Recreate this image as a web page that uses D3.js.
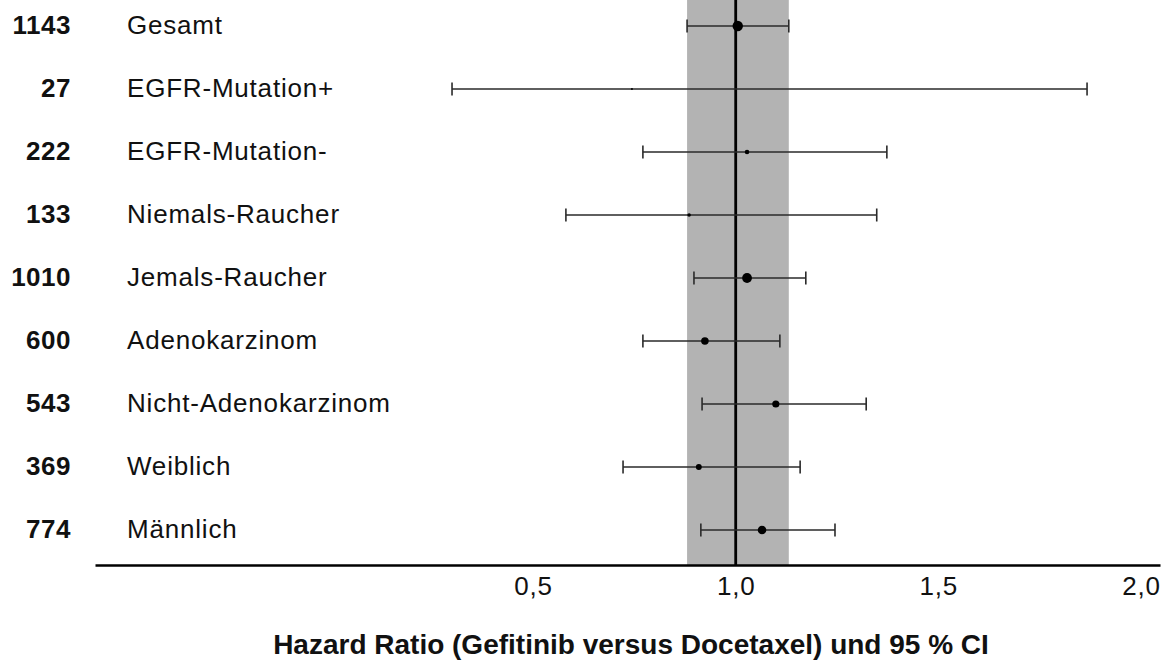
<!DOCTYPE html>
<html>
<head>
<meta charset="utf-8">
<script src="https://cdn.jsdelivr.net/npm/d3@7"></script>
<style>
  body { margin: 0; background: #fff; }
  svg { display: block; font-family: "Liberation Sans", Arial, sans-serif; }
</style>
</head>
<body>
<div id="chart"></div>
<script>
// subgroups, top to bottom
const groups = ['Gesamt', 'EGFR-Mutation+', 'EGFR-Mutation-', 'Niemals-Raucher', 'Jemals-Raucher',
  'Adenokarzinom', 'Nicht-Adenokarzinom', 'Weiblich', 'Männlich'];
const patients = [1143, 27, 222, 133, 1010, 600, 543, 369, 774];
const hazardRatio = [1.005, 0.744, 1.028, 0.885, 1.028, 0.924, 1.099, 0.909, 1.065];
const ciLower = [0.880, 0.300, 0.771, 0.581, 0.897, 0.771, 0.917, 0.722, 0.914];
const ciUpper = [1.131, 1.867, 1.373, 1.348, 1.173, 1.109, 1.322, 1.159, 1.245];
const xTicks = [0.5, 1.0, 1.5, 2.0];
const title = 'Hazard Ratio (Gefitinib versus Docetaxel) und 95 % CI';

const width = 1162, height = 660;
const axisY = 565;
const font = '"Liberation Sans", Arial, sans-serif';

const rows = groups.map((g, i) => ({
  name: g, n: patients[i], hr: hazardRatio[i], lo: ciLower[i], hi: ciUpper[i]
}));

const svg = d3.select('#chart').append('svg')
  .attr('width', width)
  .attr('height', height);

const x = d3.scaleLinear().domain([-0.581, 2.047]).range([95, 1160]);
const y = d3.scalePoint().domain(groups).range([26, 530]);
const r = d3.scaleSqrt().domain([0, 1143]).range([0, 5.2]);

// grey band = overall CI
svg.append('rect')
  .attr('x', x(rows[0].lo))
  .attr('y', 0)
  .attr('width', x(rows[0].hi) - x(rows[0].lo))
  .attr('height', axisY)
  .attr('fill', '#b3b3b3');

// reference line at HR = 1
svg.append('line')
  .attr('x1', x(1)).attr('x2', x(1))
  .attr('y1', 0).attr('y2', axisY)
  .attr('stroke', '#000')
  .attr('stroke-width', 2.8);

// axis
const axis = svg.append('g')
  .attr('transform', `translate(0,${axisY})`)
  .call(d3.axisBottom(x)
    .tickValues(xTicks)
    .tickSize(0)
    .tickSizeOuter(0)
    .tickPadding(12)
    .tickFormat(d => d3.format('.1f')(d).replace('.', ',')));
axis.select('.domain').attr('stroke', '#000').attr('stroke-width', 2.5);
axis.selectAll('text')
  .attr('font-size', 26)
  .attr('font-family', font)
  .attr('fill', '#111')
  .attr('letter-spacing', 0.8);

// whiskers
const row = svg.selectAll('.row')
  .data(rows)
  .enter()
  .append('g')
  .attr('class', 'row')
  .attr('transform', d => `translate(0,${y(d.name)})`);

row.append('line')
  .attr('x1', d => x(d.lo)).attr('x2', d => x(d.hi))
  .attr('stroke', '#2a2a2a')
  .attr('stroke-width', 1.6);

row.selectAll('.cap')
  .data(d => [d.lo, d.hi])
  .enter()
  .append('line')
  .attr('class', 'cap')
  .attr('x1', d => x(d)).attr('x2', d => x(d))
  .attr('y1', -6.5).attr('y2', 6.5)
  .attr('stroke', '#2a2a2a')
  .attr('stroke-width', 1.6);

row.append('circle')
  .attr('cx', d => x(d.hr))
  .attr('r', d => Math.max(1, r(d.n)))
  .attr('fill', '#000');

// labels
row.append('text')
  .attr('x', 71)
  .attr('y', 8)
  .attr('text-anchor', 'end')
  .attr('font-size', 26)
  .attr('font-weight', 'bold')
  .attr('letter-spacing', 0.5)
  .attr('fill', '#111')
  .text(d => d.n);

row.append('text')
  .attr('x', 127)
  .attr('y', 8)
  .attr('font-size', 26)
  .attr('letter-spacing', 0.8)
  .attr('fill', '#111')
  .text(d => d.name);

svg.append('text')
  .attr('x', 631)
  .attr('y', 654)
  .attr('text-anchor', 'middle')
  .attr('font-size', 28)
  .attr('font-weight', 'bold')
  .attr('fill', '#111')
  .text(title);
</script>
</body>
</html>
